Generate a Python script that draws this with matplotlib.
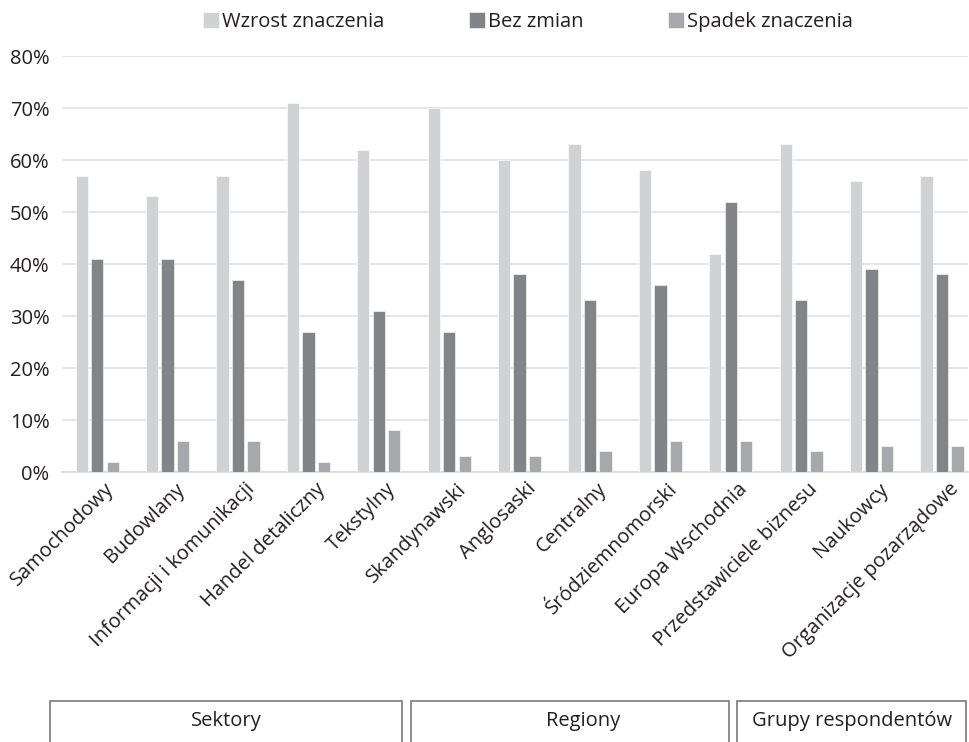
import numpy as np
import matplotlib
matplotlib.use("Agg")
import matplotlib.pyplot as plt
from matplotlib.patches import Rectangle
from matplotlib.transforms import ScaledTranslation

plt.rcParams['font.family'] = ['Open Sans', 'DejaVu Sans']

# data
categories = ['Samochodowy', 'Budowlany', 'Informacji i komunikacji', 'Handel detaliczny',
              'Tekstylny', 'Skandynawski', 'Anglosaski', 'Centralny', 'Śródziemnomorski',
              'Europa Wschodnia', 'Przedstawiciele biznesu', 'Naukowcy',
              'Organizacje pozarządowe']
wzrost = [57, 53, 57, 71, 62, 70, 60, 63, 58, 42, 63, 56, 57]
bez_zmian = [41, 41, 37, 27, 31, 27, 38, 33, 36, 52, 33, 39, 38]
spadek = [2, 6, 6, 2, 8, 3, 3, 4, 6, 6, 4, 5, 5]
series_names = ['Wzrost znaczenia', 'Bez zmian', 'Spadek znaczenia']
colors = ['#d1d2d4', '#838488', '#a7a8ab']
groups = ['Sektory', 'Regiony', 'Grupy respondentów']
yticks = [0, 10, 20, 30, 40, 50, 60, 70, 80]

W, H = 969, 742
fig = plt.figure(figsize=(W / 100, H / 100), dpi=100)
ax = fig.add_axes([62 / W, (H - 472) / H, (968 - 62) / W, (472 - 56) / H])

x = np.arange(len(categories))
step = 0.22
width = 0.175
for i, (vals, name) in enumerate(zip([wzrost, bez_zmian, spadek], series_names)):
    ax.bar(x + (i - 1) * step, vals, width, color=colors[i], label=name,
           edgecolor='white', linewidth=0.4, zorder=3)

ax.set_ylim(0, 80)
ax.set_xlim(-0.5, 12.37)
ax.set_yticks(yticks)
ax.set_yticklabels([f'{v}%' for v in yticks], fontsize=14.5, color='#231f20')
ax.yaxis.grid(True, color='#e2e2e2', linewidth=1.2, zorder=0)
ax.tick_params(axis='both', length=0)
ax.tick_params(axis='y', pad=9)
for s in ['top', 'right', 'left']:
    ax.spines[s].set_visible(False)
ax.spines['bottom'].set_color('#d9d9d9')
ax.spines['bottom'].set_linewidth(1.2)

ax.set_xticks(x)
ax.set_xticklabels(categories, rotation=45, ha='right', va='top', fontsize=14.5,
                   color='#231f20')
ax.tick_params(axis='x', pad=5)
off = ScaledTranslation(0.21, 0, fig.dpi_scale_trans)
for lab in ax.get_xticklabels():
    lab.set_transform(lab.get_transform() + off)

leg = fig.legend(loc='center', bbox_to_anchor=(528 / W, 1 - 22 / H), ncol=3,
                 frameon=False, fontsize=14.5, handlelength=0.8, handleheight=0.8,
                 handletextpad=0.15, columnspacing=4.2)
for t in leg.get_texts():
    t.set_color('#231f20')

# group boxes at the bottom
boxes = [(50, 402), (411, 729), (737, 966)]
label_x = [226, 583, 852]
top = 701
for (x0, x1), lx, g in zip(boxes, label_x, groups):
    fig.patches.append(Rectangle((x0 / W, -0.02), (x1 - x0) / W, (H - top) / H + 0.02,
                                 transform=fig.transFigure, fill=False,
                                 edgecolor='#7a7a7a', linewidth=1.2))
    fig.text(lx / W, 1 - 721 / H, g, ha='center', va='center',
             fontsize=14.5, color='#231f20')

fig.savefig('out.png', dpi=100)
